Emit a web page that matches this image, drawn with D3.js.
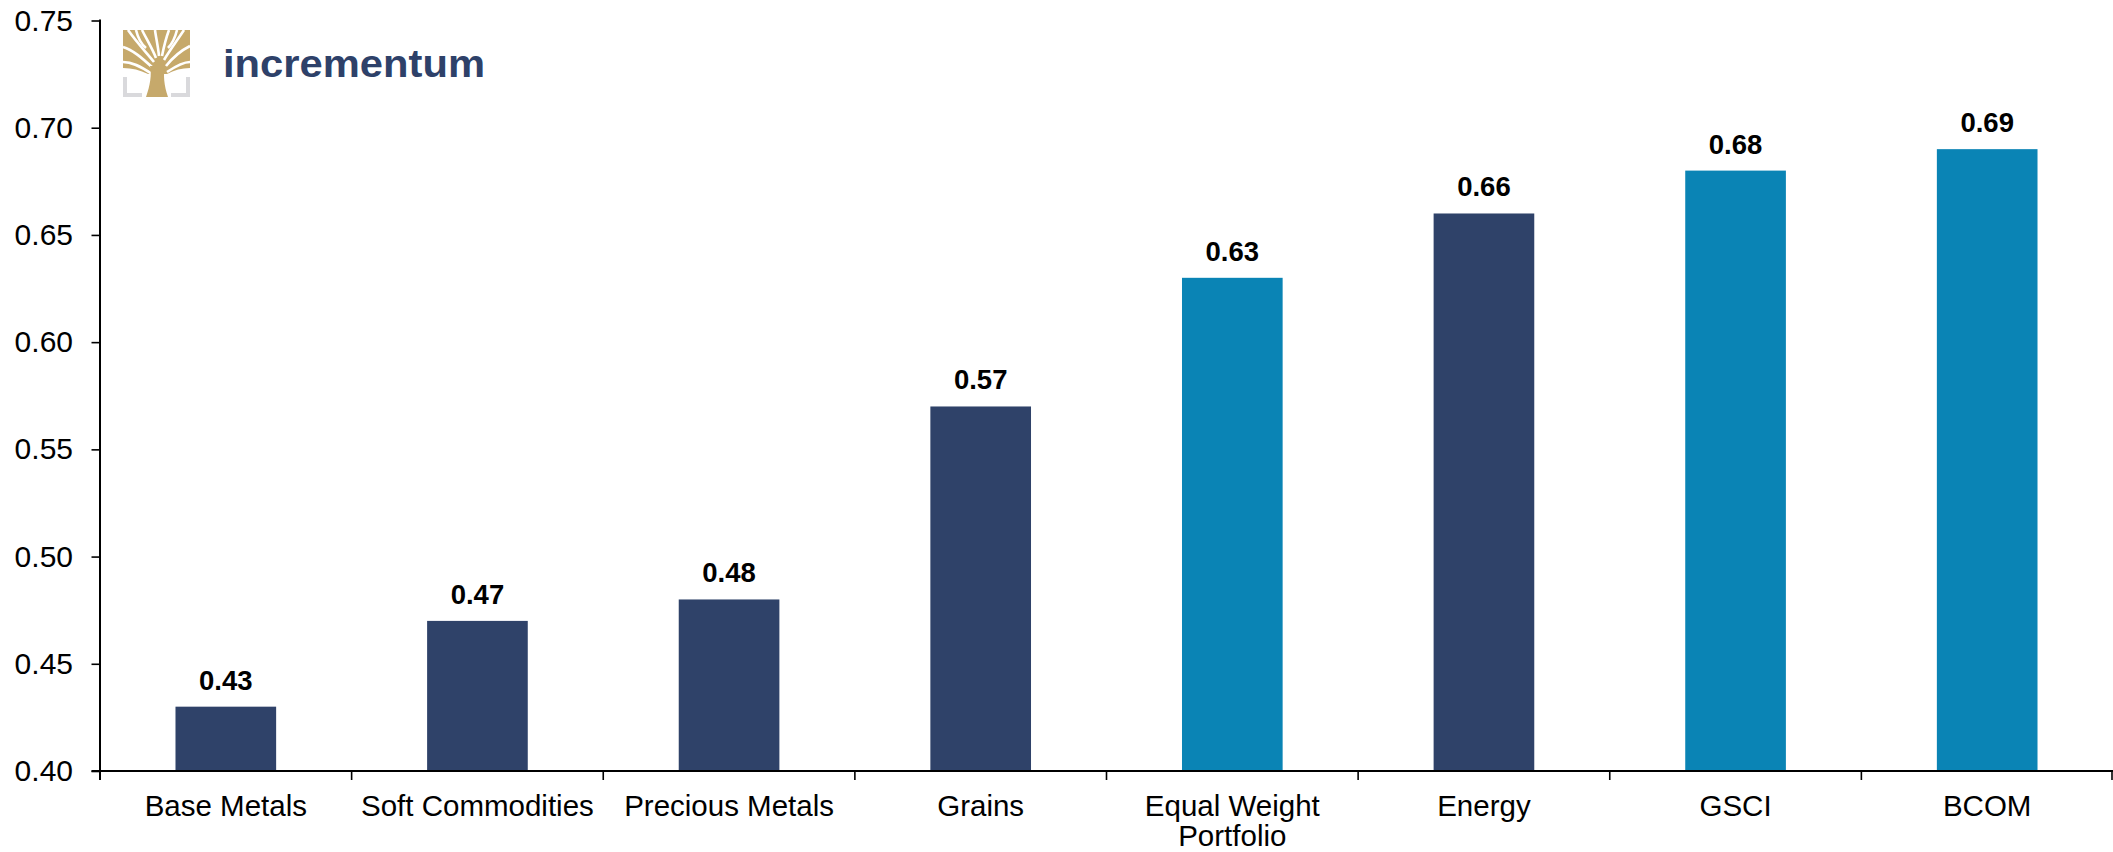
<!DOCTYPE html>
<html>
<head>
<meta charset="utf-8">
<script src="https://cdn.jsdelivr.net/npm/d3@7"></script>
<style>
  html, body { margin: 0; padding: 0; background: #fff; }
  svg { display: block; }
  text { font-family: "Liberation Sans", Arial, sans-serif; }
</style>
</head>
<body>
<svg id="chart" width="2113" height="852"></svg>
<script>
// ---- data ----
const categories = ["Base Metals", "Soft Commodities", "Precious Metals", "Grains",
                    "Equal Weight Portfolio", "Energy", "GSCI", "BCOM"];
const values = [0.43, 0.47, 0.48, 0.57, 0.63, 0.66, 0.68, 0.69];
const groups = ["sector", "sector", "sector", "sector", "index", "sector", "index", "index"];
const yTicks = [0.40, 0.45, 0.50, 0.55, 0.60, 0.65, 0.70, 0.75];
const groupColors = { sector: "#2F4269", index: "#0A84B5" };

(function () {
// ---- layout ----
const W = 2113, H = 852;
const mLeft = 100, mRight = 2113, mTop = 20.5, mBottom = 771;

const svg = d3.select("#chart");
svg.append("rect").attr("width", W).attr("height", H).attr("fill", "#fff");

const y = d3.scaleLinear().domain([0.40, 0.75]).range([mBottom, mTop]);
const xBand = d3.scaleBand().domain(categories).range([mLeft, mRight]).padding(0); // tick boundaries
const x = d3.scaleBand().domain(categories).range([mLeft, mRight]).paddingInner(0.6).paddingOuter(0.3);

// ---- bars ----
svg.append("g").selectAll("rect")
  .data(categories)
  .join("rect")
  .attr("x", d => x(d))
  .attr("width", x.bandwidth())
  .attr("y", (d, i) => y(values[i]))
  .attr("height", (d, i) => y(0.40) - y(values[i]))
  .attr("fill", (d, i) => groupColors[groups[i]]);

// ---- value labels ----
svg.append("g").selectAll("text")
  .data(categories)
  .join("text")
  .attr("x", d => x(d) + x.bandwidth() / 2)
  .attr("y", (d, i) => y(values[i]) - 17)
  .attr("text-anchor", "middle")
  .attr("font-size", 27.5)
  .attr("font-weight", "bold")
  .attr("fill", "#000")
  .text((d, i) => d3.format(".2f")(values[i]));

// ---- y axis ----
const yAxis = d3.axisLeft(y).tickValues(yTicks).tickFormat(d3.format(".2f"))
  .tickSize(8.5).tickPadding(18.5);
const gy = svg.append("g").attr("transform", `translate(${mLeft},0)`).call(yAxis);
gy.select(".domain").remove();
gy.selectAll(".tick line").attr("stroke", "#000").attr("stroke-width", 1.6);
gy.selectAll(".tick text").attr("font-size", 30).attr("fill", "#000")
  .attr("font-family", "'Liberation Sans', Arial, sans-serif");
svg.append("line").attr("x1", mLeft).attr("x2", mLeft).attr("y1", y(0.75) - 1).attr("y2", mBottom + 9)
  .attr("stroke", "#000").attr("stroke-width", 2);

// ---- x axis ----
svg.append("line").attr("x1", mLeft - 8.5).attr("x2", mRight).attr("y1", mBottom).attr("y2", mBottom)
  .attr("stroke", "#000").attr("stroke-width", 2);
const boundaries = categories.map(c => xBand(c)).concat([xBand(categories[categories.length - 1]) + xBand.bandwidth()]);
svg.append("g").selectAll("line")
  .data(boundaries.slice(1))
  .join("line")
  .attr("x1", d => Math.min(d, mRight - 1)).attr("x2", d => Math.min(d, mRight - 1))
  .attr("y1", mBottom).attr("y2", mBottom + 9)
  .attr("stroke", "#000").attr("stroke-width", 1.6);

const xLabels = svg.append("g");
categories.forEach(c => {
  const cx = xBand(c) + xBand.bandwidth() / 2;
  const t = xLabels.append("text")
    .attr("x", cx).attr("y", 815.5)
    .attr("text-anchor", "middle").attr("font-size", 29.5).attr("fill", "#000");
  const words = c.split(" ");
  let line = [];
  let tspan = t.append("tspan").attr("x", cx).attr("dy", 0);
  words.forEach(w => {
    line.push(w);
    tspan.text(line.join(" "));
    if (tspan.node().getComputedTextLength() > xBand.bandwidth() - 6 && line.length > 1) {
      line.pop();
      tspan.text(line.join(" "));
      line = [w];
      tspan = t.append("tspan").attr("x", cx).attr("dy", 30.5).text(w);
    }
  });
});

// ---- logo ----
const logo = svg.append("g");
const gold = "#C6A96B";
logo.append("path")
  .attr("d", "M123,77 L127,77 L127,93 L142,93 L142,97 L123,97 Z M190,77 L186,77 L186,93 L171,93 L171,97 L190,97 Z")
  .attr("fill", "#D9D9DC");
logo.append("rect").attr("x", 123).attr("y", 30).attr("width", 67).attr("height", 44).attr("fill", gold);
const gaps = [
  "M152,74 C140,66 132,62 123,62",
  "M153,68 C142,58 133,50 123,47",
  "M154,62 C146,52 138,44 128,30",
  "M156,58 C152,48 147,40 142,30",
  "M159,56 C158,46 156,38 155,30",
  "M162,56 C164,46 166,38 169,30",
  "M164,60 C170,50 176,42 184,30",
  "M166,66 C174,56 182,50 190,46",
  "M167,72 C176,66 183,62 190,62",
  "M136,30 C138,38 141,44 146,48",
  "M177,30 C175,38 172,44 168,48"
];
logo.append("g").selectAll("path").data(gaps).join("path")
  .attr("d", d => d).attr("fill", "none").attr("stroke", "#fff").attr("stroke-width", 2.6);
logo.append("path").attr("d", "M123,74 L148,74 C140,70 132,68 123,68 Z").attr("fill", "#fff");
logo.append("path").attr("d", "M190,74 L167,74 C174,70 182,68 190,68 Z").attr("fill", "#fff");
logo.append("path")
  .attr("d", "M150,66 C152,74 150,86 146,97 L168,97 C164,86 163,74 165,66 Z")
  .attr("fill", gold);

logo.append("text")
  .attr("x", 223).attr("y", 77)
  .attr("font-size", 39).attr("font-weight", "bold")
  .attr("fill", "#2E4169")
  .attr("textLength", 262).attr("lengthAdjust", "spacingAndGlyphs")
  .text("incrementum");
})();
</script>
</body>
</html>
